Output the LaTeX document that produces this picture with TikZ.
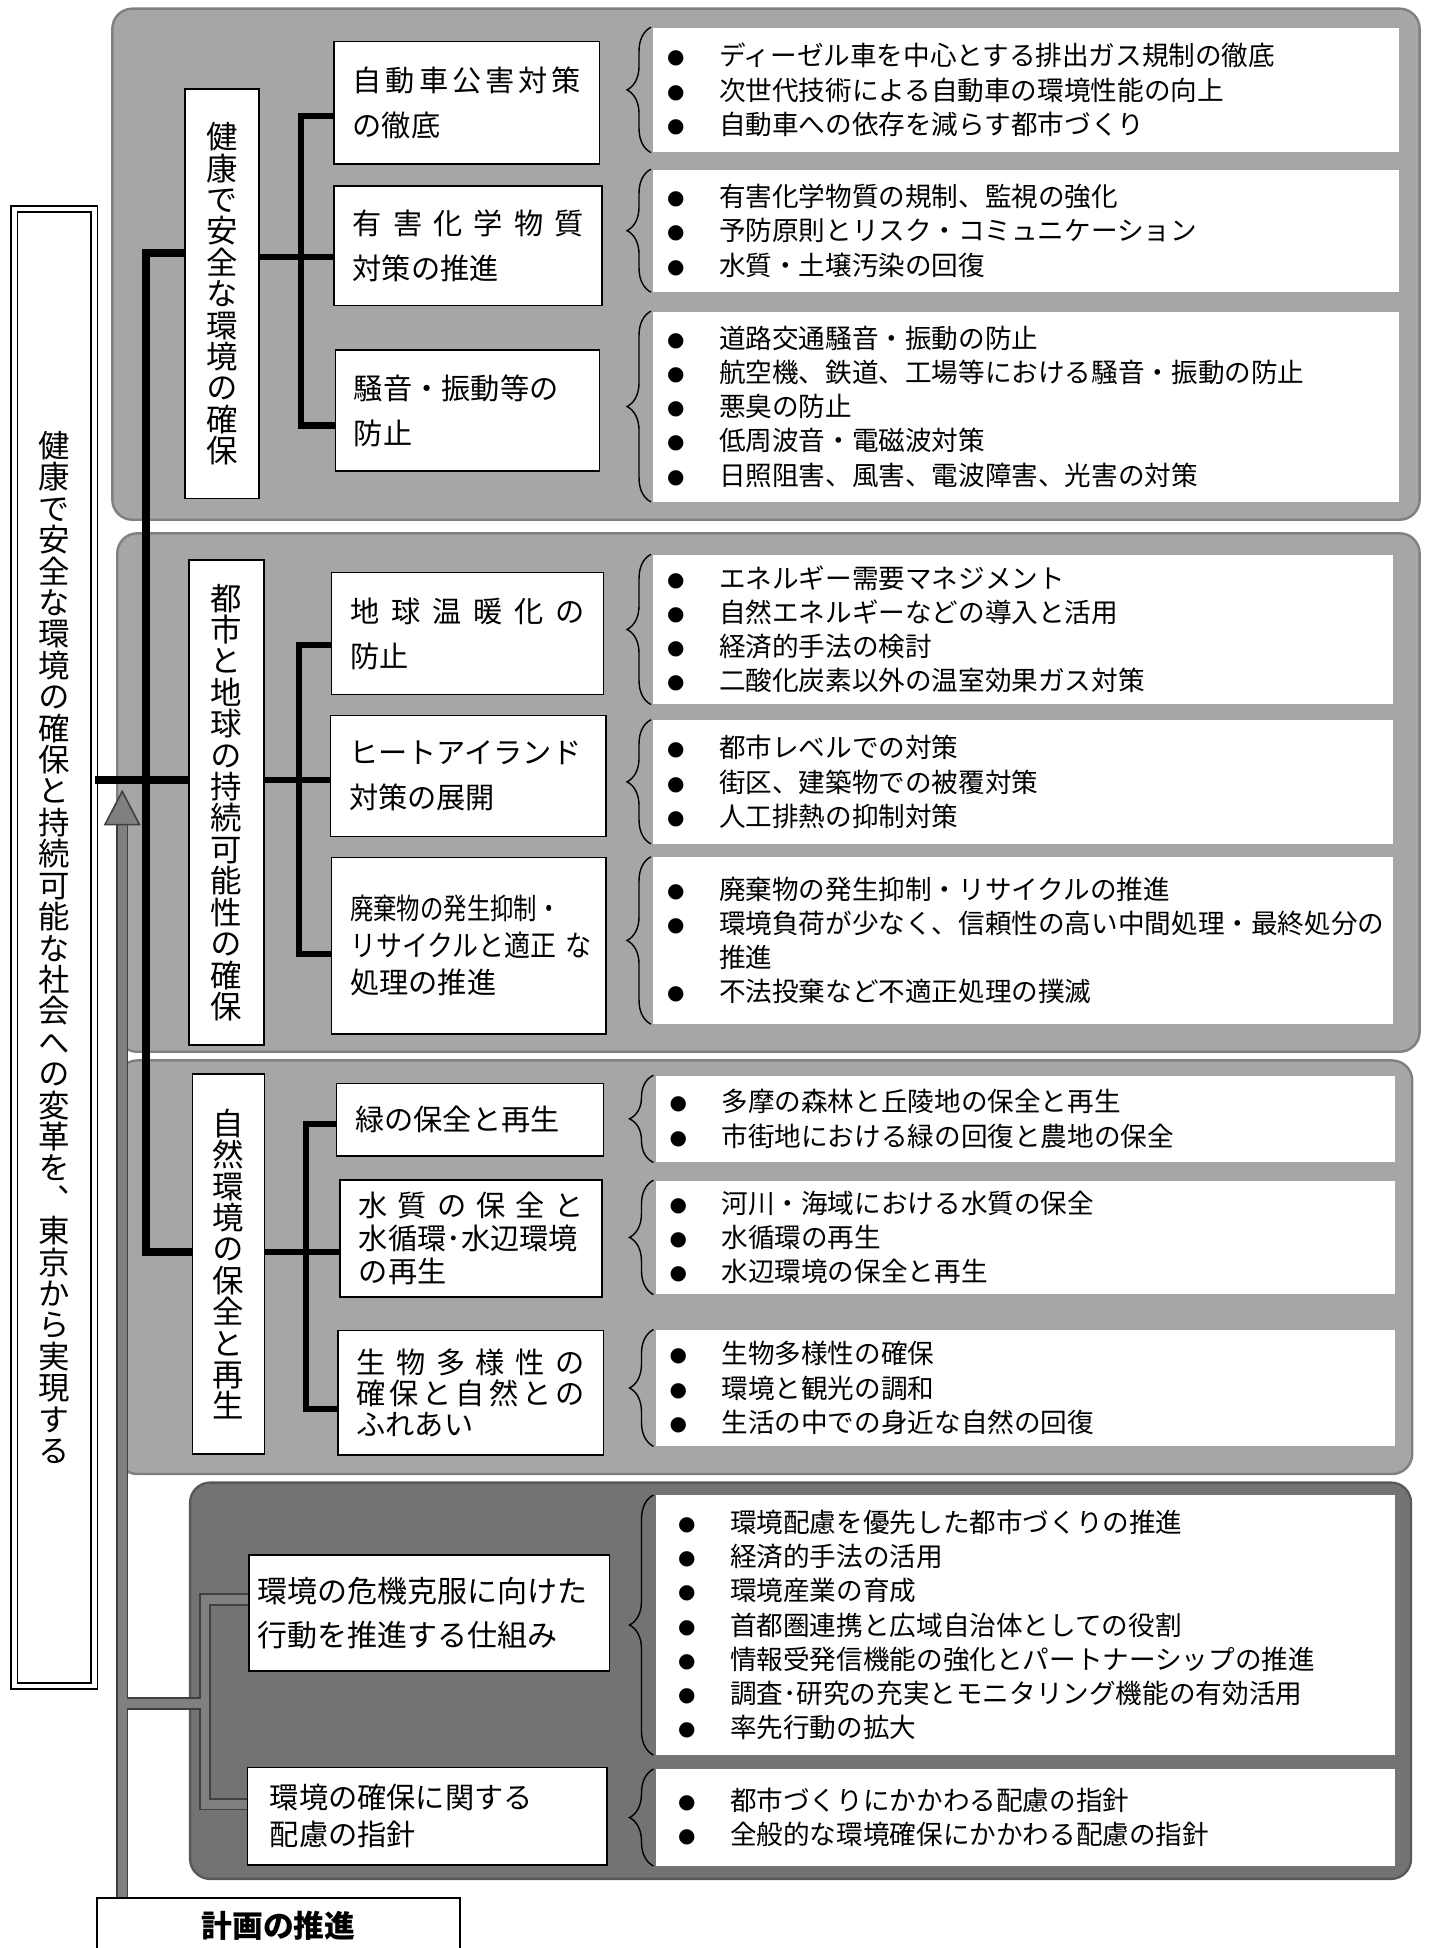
\documentclass[tikz,border=0pt]{standalone}
\usepackage{fontspec}
\usepackage{graphicx}
\setmainfont{Noto Sans CJK JP}
\newfontfamily\tatefont[RawFeature=+vert]{Noto Sans CJK JP}
\newfontfamily\symfont{DejaVu Sans}
\usetikzlibrary{decorations.pathreplacing}

\newcommand{\itemfont}{\fontsize{13.3}{17.1}\selectfont}
\newcommand{\subfont}{\fontsize{14.6}{22.5}\selectfont}
\newcommand{\subtight}[1]{\fontsize{14.6}{#1}\selectfont\lineskiplimit=-3pt\relax}
\newcommand{\tatefnt}{\tatefont\fontsize{15.7}{15.7}\selectfont\lineskiplimit=-3pt\relax}
\newcommand{\itm}{\makebox[26pt][l]{\raisebox{1pt}{\symfont\fontsize{10}{10}\selectfont ●}}}
\newcommand{\cnt}{\hspace*{26pt}}

\tikzset{
  panel/.style={fill=black!35, draw=black!50, line width=1.2pt, rounded corners=10pt},
  darkpanel/.style={panel, fill=black!55, draw=black!65},
  itemarea/.style={fill=white, anchor=north west, inner xsep=6.8pt, inner ysep=0pt, align=left, font=\itemfont},
  brc/.style={decorate, decoration={brace, amplitude=12pt}, line width=0.7pt},
  catbox/.style={draw, fill=white, line width=0.8pt, inner sep=0pt, align=center, font=\tatefnt},
  subbox/.style={draw, fill=white, line width=0.8pt, anchor=north west, inner xsep=9.3pt, inner ysep=0pt, align=left, font=\subfont},
  trunk/.style={line width=4.2pt},
  branch/.style={line width=3.1pt},
  shaftout/.style={line width=6.2pt, black!75},
  shaftin/.style={line width=4.4pt, black!50},
}

\begin{document}
\begin{tikzpicture}[x=0.617pt, y=-0.617pt]
\clip (0,0) rectangle (1160,1578);
\fill[white] (0,0) rectangle (1160,1578);

% panels
\draw[panel] (91,7) rectangle (1150,421);
\draw[panel] (95,432) rectangle (1150,852);
\draw[panel] (95,859) rectangle (1144,1194);
\draw[darkpanel] (154,1201) rectangle (1143,1522);

% item lists
\node[itemarea, minimum width=372.7pt, minimum height=62.3pt, text width=359.1pt] (i11) at (529,22)
  {\itm ディーゼル車を中心とする排出ガス規制の徹底\\\itm 次世代技術による自動車の環境性能の向上\\\itm 自動車への依存を減らす都市づくり};
\node[itemarea, minimum width=372.7pt, minimum height=61.1pt, text width=359.1pt] (i12) at (529,137)
  {\itm 有害化学物質の規制、監視の強化\\\itm 予防原則とリスク・コミュニケーション\\\itm 水質・土壌汚染の回復};
\node[itemarea, minimum width=372.7pt, minimum height=95pt, text width=359.1pt] (i13) at (529,252)
  {\itm 道路交通騒音・振動の防止\\\itm 航空機、鉄道、工場等における騒音・振動の防止\\\itm 悪臭の防止\\\itm 低周波音・電磁波対策\\\itm 日照阻害、風害、電波障害、光害の対策};
\node[itemarea, minimum width=369.6pt, minimum height=74.7pt, text width=356pt] (i21) at (529,449)
  {\itm エネルギー需要マネジメント\\\itm 自然エネルギーなどの導入と活用\\\itm 経済的手法の検討\\\itm 二酸化炭素以外の温室効果ガス対策};
\node[itemarea, minimum width=369.6pt, minimum height=61.7pt, text width=356pt] (i22) at (529,583)
  {\itm 都市レベルでの対策\\\itm 街区、建築物での被覆対策\\\itm 人工排熱の抑制対策};
\node[itemarea, minimum width=369.6pt, minimum height=83.3pt, text width=356pt] (i23) at (529,694)
  {\itm 廃棄物の発生抑制・リサイクルの推進\\\itm 環境負荷が少なく、信頼性の高い中間処理・最終処分の\\\cnt 推進\\\itm 不法投棄など不適正処理の撲滅};
\node[itemarea, minimum width=369.6pt, minimum height=43.2pt, text width=356pt] (i31) at (531,871)
  {\itm 多摩の森林と丘陵地の保全と再生\\\itm 市街地における緑の回復と農地の保全};
\node[itemarea, minimum width=369.6pt, minimum height=56.8pt, text width=356pt] (i32) at (531,956)
  {\itm 河川・海域における水質の保全\\\itm 水循環の再生\\\itm 水辺環境の保全と再生};
\node[itemarea, minimum width=369.6pt, minimum height=58pt, text width=356pt] (i33) at (531,1077)
  {\itm 生物多様性の確保\\\itm 環境と観光の調和\\\itm 生活の中での身近な自然の回復};
\node[itemarea, inner xsep=11.1pt, minimum width=369.6pt, minimum height=129.6pt, text width=347.4pt] (i41) at (531,1211)
  {\itm 環境配慮を優先した都市づくりの推進\\\itm 経済的手法の活用\\\itm 環境産業の育成\\\itm 首都圏連携と広域自治体としての役割\\\itm 情報受発信機能の強化とパートナーシップの推進\\\itm 調査･研究の充実とモニタリング機能の有効活用\\\itm 率先行動の拡大};
\node[itemarea, inner xsep=11.1pt, minimum width=369.6pt, minimum height=48.1pt, text width=347.4pt] (i42) at (531,1433)
  {\itm 都市づくりにかかわる配慮の指針\\\itm 全般的な環境確保にかかわる配慮の指針};

% braces
\draw[brc] ([xshift=-1pt]i11.south west) -- ([xshift=-1pt]i11.north west);
\draw[brc] ([xshift=-1pt]i12.south west) -- ([xshift=-1pt]i12.north west);
\draw[brc] ([xshift=-1pt]i13.south west) -- ([xshift=-1pt]i13.north west);
\draw[brc] ([xshift=-1pt]i21.south west) -- ([xshift=-1pt]i21.north west);
\draw[brc] ([xshift=-1pt]i22.south west) -- ([xshift=-1pt]i22.north west);
\draw[brc] ([xshift=-1pt]i23.south west) -- ([xshift=-1pt]i23.north west);
\draw[brc] ([xshift=-1pt]i31.south west) -- ([xshift=-1pt]i31.north west);
\draw[brc] ([xshift=-1pt]i32.south west) -- ([xshift=-1pt]i32.north west);
\draw[brc] ([xshift=-1pt]i33.south west) -- ([xshift=-1pt]i33.north west);
\draw[brc] ([xshift=-1pt]i41.south west) -- ([xshift=-1pt]i41.north west);
\draw[brc] ([xshift=-1pt]i42.south west) -- ([xshift=-1pt]i42.north west);

% goal and categories
\node[draw, double, double distance=2.4pt, line width=0.8pt, fill=white, inner sep=0pt, align=center, font=\tatefnt,
  minimum width=40.1pt, minimum height=738.2pt] (goal) at (44,767.5)
  {健\\康\\で\\安\\全\\な\\環\\境\\の\\確\\保\\と\\持\\続\\可\\能\\な\\社\\会\\へ\\の\\変\\革\\を\\、\\東\\京\\か\\ら\\実\\現\\す\\る};
\node[catbox, minimum width=37pt, minimum height=204.8pt] (c1) at (180,238)
  {健\\康\\で\\安\\全\\な\\環\\境\\の\\確\\保};
\node[catbox, minimum width=37.6pt, minimum height=242.5pt] (c2) at (183.5,650)
  {都\\市\\と\\地\\球\\の\\持\\続\\可\\能\\性\\の\\確\\保};
\node[catbox, minimum width=36pt, minimum height=190pt] (c3) at (185,1024)
  {自\\然\\環\\境\\の\\保\\全\\と\\再\\生};

% measures
\node[subbox, minimum width=132.7pt, minimum height=61.1pt, text width=114.1pt] (s11) at (270,33)
  {\makebox[\linewidth][s]{自\hfill 動\hfill 車\hfill 公\hfill 害\hfill 対\hfill 策}\\の徹底};
\node[subbox, minimum width=133.9pt, minimum height=59.8pt, text width=115.4pt] (s12) at (270,150)
  {\makebox[\linewidth][s]{有\hfill 害\hfill 化\hfill 学\hfill 物\hfill 質}\\対策の推進};
\node[subbox, minimum width=132pt, minimum height=60.5pt, text width=113.5pt] (s13) at (271,283)
  {騒音・振動等の\\防止};
\node[subbox, minimum width=135.7pt, minimum height=61.1pt, text width=117.2pt] (s21) at (268,463)
  {\makebox[\linewidth][s]{地\hfill 球\hfill 温\hfill 暖\hfill 化\hfill の}\\防止};
\node[subbox, minimum width=137.6pt, minimum height=60.5pt, text width=119.1pt] (s22) at (267,579)
  {ヒートアイランド\\対策の展開};
\node[subbox, minimum width=137pt, minimum height=88.2pt, text width=118.5pt, font={\subtight{18.5}}] (s23) at (268,694)
  {\scalebox{0.8}[1]{廃棄物の発生抑制・}\\\scalebox{0.89}[1]{リサイクルと適正 な}\\処理の推進};
\node[subbox, minimum width=133.3pt, minimum height=36.4pt, text width=114.8pt] (s31) at (272,877)
  {緑の保全と再生};
\node[subbox, minimum width=130.8pt, minimum height=58.6pt, text width=112.3pt, font={\subtight{16.4}}] (s32) at (275,955)
  {\makebox[\linewidth][s]{水\hfill 質\hfill の\hfill 保\hfill 全\hfill と}\\水循環･水辺環境\\の再生};
\node[subbox, minimum width=132.7pt, minimum height=62.3pt, text width=114.1pt, font={\subtight{15.5}}] (s33) at (273,1077)
  {\makebox[\linewidth][s]{生\hfill 物\hfill 多\hfill 様\hfill 性\hfill の}\\\makebox[\linewidth][s]{確\hfill 保\hfill と\hfill 自\hfill 然\hfill と\hfill の}\\ふれあい};
\node[subbox, inner xsep=4.3pt, minimum width=180.2pt, minimum height=58pt, text width=171.5pt, font={\fontsize{15}{22}\selectfont}] (b1) at (201,1259)
  {環境の危機克服に向けた\\行動を推進する仕組み};
\node[subbox, inner xsep=11.1pt, minimum width=179.5pt, minimum height=48.7pt, text width=157.3pt, font={\subtight{18.5}}] (b2) at (200,1431)
  {環境の確保に関する\\配慮の指針};
\node[draw, fill=white, line width=0.8pt, anchor=north west, minimum width=181.4pt, minimum height=27.5pt,
  font={\fontsize{15.4}{18}\selectfont\bfseries}] (plan) at (78,1537) {計画の推進};

% black connectors
\coordinate (tk) at (118.5,205);
\coordinate (v1) at (244,208);
\coordinate (v2) at (242,632);
\coordinate (v3) at (248,1014);
\draw[trunk] (c1.west |- tk) -- (tk) |- (c3.west |- v3);
\draw[trunk] (goal.east |- v2) -- (c2.west |- v2);
\draw[branch] ([yshift=-6.5pt]s11.west) -| (v1) |- ([yshift=-7.4pt]s13.west);
\draw[branch] (c1.east |- v1) -- (s12.west |- v1);
\draw[branch] ([yshift=-5.9pt]s21.west) -| (v2) |- ([yshift=-4pt]s23.west);
\draw[branch] (c2.east |- v2) -- (s22.west |- v2);
\draw[branch] ([yshift=-1.9pt]s31.west) -| (v3) |- ([yshift=-8.3pt]s33.west);
\draw[branch] (c3.east |- v3) -- (s32.west |- v3);

% grey arrow from the plan
\coordinate (ah) at (99,668);
\coordinate (bj) at (166,1380);
\draw[shaftout] (plan.north -| ah) -- (ah);
\draw[shaftout] (bj -| ah) -- (bj);
\draw[shaftout] ([yshift=6.8pt]b1.west) -| (bj) |- ([yshift=5.9pt]b2.west);
\draw[shaftin] (plan.north -| ah) -- (ah);
\draw[shaftin] (bj -| ah) -- (bj);
\draw[shaftin] ([yshift=6.8pt]b1.west) -| (bj) |- ([yshift=5.9pt]b2.west);
\filldraw[fill=black!50, draw=black!75, line width=0.8pt] (ah) ++(-14,0) -- ++(14,-27) -- ++(14,27) -- cycle;
\end{tikzpicture}
\end{document}
